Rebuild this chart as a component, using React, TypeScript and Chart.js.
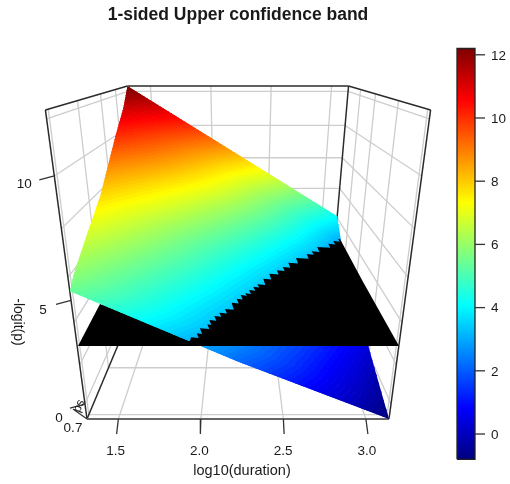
import React, { useEffect, useRef } from "react";
import { Chart, registerables } from "chart.js";

// ---------- data ----------
const titleText = "1-sided Upper confidence band";
const durationTicks = [1.5, 2.0, 2.5, 3.0];
const durationRange = [1.31, 3.14];
const zTicks = [0, 5, 10];
const zGrid = [0, 2, 4, 6, 8, 10, 12];
const zRange = [-0.8, 12.3];
const depthGrid = [0.02, 0.27, 0.54, 0.77];
const colorbarTicks = [0, 2, 4, 6, 8, 10, 12];
const colorbarRange = [-0.8, 12.2];
const palette = ["#00007F", "#0000FF", "#007FFF", "#00FFFF", "#7FFF7F", "#FFFF00", "#FF7F00", "#FF0000", "#7F0000"];

// surface height: columns are log10(duration), rows are depth
const surfaceDurations = [1.31, 2.225, 3.14];
const surfaceDepths = [0, 0.05, 0.2, 0.4, 0.7, 0.88, 1];
const surfaceZ = [
  [5.4, 2.15, -0.8],
  [5.85, 2.6, -0.6],
  [6.7, 3.33, -0.03],
  [7.75, 4.27, 0.79],
  [10.0, 6.1, 2.2],
  [11.2, 7.1, 3.03],
  [12.3, 8.2, 4.1],
];

// black region, in picture units
const blackLeft = [[78, 346], [100, 304], [150, 320], [205, 346]];
const blackEdgeStart = [[178, 346], [178, 339], [183, 341], [190, 341]];
const blackTeeth = [
  [191, 337.3], [196.7, 333.3], [200, 328.3], [207.3, 324.3], [209.3, 320], [214.3, 316], [219.3, 312.7], [225, 309],
  [231.7, 302.7], [236.7, 298.7], [240.7, 295], [245, 293.3], [249, 290], [253.3, 286.7], [257.3, 284.3], [263.3, 278.7],
  [269.3, 273.7], [276.7, 270.3], [282.7, 267], [288.3, 262.7], [296, 258], [306.7, 254], [311.7, 251.3], [317.3, 247],
  [328.3, 243.7], [333.3, 241], [338, 239.3],
];
const blackEdgeEnd = [[340, 239], [362, 280], [399, 346]];

// ---------- view ----------
const W = 510;
const H = 484;
const FONT = '"Liberation Sans", Arial, sans-serif';
const GRID = "#cdcdcd";
const EDGE = "#2b2b2b";
const BAR_MIN = -1.582;
const BAR_MAX = 13.734;
const zLabelOffsets = [[-26, 14], [-28, 10], [-30, 8]];

function project(d: number, v: number, z: number) {
  const u = (d - (durationRange[0] + durationRange[1]) / 2) / ((durationRange[1] - durationRange[0]) / 2);
  const t = (z - zRange[0]) / (zRange[1] - zRange[0]);
  const w = 1 + 0.615 * v - 0.216 * t - 0.033 * v * t;
  return { x: 238 + (151 * u) / w, y: (419 + 36.4 * v - 332.8 * t - 5.1 * v * t) / w };
}

function jet(z: number) {
  const f = Math.max(0, Math.min(0.99999, (z - colorbarRange[0]) / (colorbarRange[1] - colorbarRange[0]))) * (palette.length - 1);
  const i = Math.floor(f);
  const k = f - i;
  const c = (s: string, p: number) => parseInt(s.slice(p, p + 2), 16);
  const mix = (p: number) => Math.round(c(palette[i], p) * (1 - k) + c(palette[i + 1], p) * k);
  return `rgb(${mix(1)},${mix(3)},${mix(5)})`;
}

function durationAtLevel(row: number[], level: number) {
  let j = 0;
  while (j < row.length - 2 && level < row[j + 1]) j++;
  const k = (level - row[j]) / (row[j + 1] - row[j]);
  return surfaceDurations[j] + k * (surfaceDurations[j + 1] - surfaceDurations[j]);
}

function line(points: { x: number; y: number }[], color: any, width: number, extra: object = {}) {
  return { data: points, showLine: true, borderColor: color, borderWidth: width, pointRadius: 0, fill: false, tension: 0, ...extra };
}

function polygon(points: { x: number; y: number }[], color: string) {
  return {
    data: [...points, points[0]],
    showLine: true,
    borderColor: color,
    backgroundColor: color,
    borderWidth: 0,
    pointRadius: 0,
    tension: 0,
    fill: "shape",
  };
}

function buildDatasets() {
  const ds: any[] = [];
  const [d0, d1] = durationRange;
  const [z0, z1] = zRange;
  const wall = (a: any, b: any) => ds.push(line([a, b], GRID, 1.3));

  // walls and floor
  for (const z of zGrid) {
    wall(project(d0, 0, z), project(d0, 1, z));
    wall(project(d0, 1, z), project(d1, 1, z));
    wall(project(d1, 1, z), project(d1, 0, z));
  }
  for (const d of durationTicks) {
    wall(project(d, 0, z0), project(d, 1, z0));
    wall(project(d, 1, z0), project(d, 1, z1));
  }
  for (const v of depthGrid) {
    wall(project(d0, v, z1), project(d0, v, z0));
    wall(project(d0, v, z0), project(d1, v, z0));
    wall(project(d1, v, z0), project(d1, v, z1));
  }

  // box outline
  const edge = (a: any, b: any, c = EDGE, w = 1.5) => ds.push(line([a, b], c, w));
  edge(project(d0, 1, z1), project(d1, 1, z1));
  edge(project(d0, 0, z1), project(d0, 1, z1));
  edge(project(d1, 0, z1), project(d1, 1, z1));
  edge(project(d0, 0, z1), project(d0, 0, z0));
  edge(project(d1, 0, z1), project(d1, 0, z0));
  edge(project(d1, 1, z1), project(d1, 1, z0));
  edge(project(d0, 0, z0), project(d0, 1, z0));
  edge(project(d1, 0, z0), project(d1, 1, z0), "#8a8a8a", 1.2);
  edge(project(d0, 0, z0), project(d1, 0, z0), "#666666", 2);

  // axis ticks
  for (const d of durationTicks) {
    const p = project(d, 0, z0);
    edge(p, { x: p.x + (d - 2.2) * 2.5, y: p.y + 15 }, "#333333", 1.3);
  }
  for (const z of zTicks) {
    const p = project(d0, 0, z);
    edge(p, { x: p.x - 15, y: p.y + 4 }, "#333333", 1.3);
  }
  const c = project(d0, 0, z0);
  edge(c, { x: c.x - 14, y: c.y - 10 }, "#333333", 1.2);

  // black part under the surface
  ds.push(polygon(blackLeft.map(([x, y]) => ({ x, y })), "#000000"));

  // surface, as bands of equal height, clipped to its outline
  const step = 0.125;
  for (let lo = zRange[0] - step; lo < zRange[1] + step; lo += step) {
    const hi = lo + step;
    const left = surfaceZ.map((row, i) => project(durationAtLevel(row, hi), surfaceDepths[i], hi));
    const right = surfaceZ.map((row, i) => project(durationAtLevel(row, lo), surfaceDepths[i], lo));
    const col = jet(lo + step / 2);
    ds.push({ ...polygon([...left, ...right.reverse()], col), borderColor: col, borderWidth: 1, surfaceBand: true });
  }

  // black part over the surface
  const teeth: { x: number; y: number }[] = [];
  blackTeeth.forEach(([x, y], i) => {
    teeth.push({ x, y });
    const next = blackTeeth[i + 1];
    if (next) teeth.push({ x: next[0] + 2, y: y + 0.8 });
  });
  ds.push(
    polygon(
      [...blackEdgeStart.map(([x, y]) => ({ x, y })), ...teeth, ...blackEdgeEnd.map(([x, y]) => ({ x, y }))],
      "#000000"
    )
  );

  // colour bar
  const barX = 466;
  const pix = (z: number) => (H * (BAR_MAX - z)) / (BAR_MAX - BAR_MIN);
  ds.push({
    ...line([{ x: barX, y: colorbarRange[0] }, { x: barX, y: colorbarRange[1] }], "#000", 18),
    yAxisID: "z",
    borderCapStyle: "butt",
    borderColor: (ctx: any) => {
      const g = ctx.chart.ctx.createLinearGradient(0, pix(colorbarRange[0]), 0, pix(colorbarRange[1]));
      palette.forEach((p, i) => g.addColorStop(i / (palette.length - 1), p));
      return g;
    },
  });
  const [b0, b1] = colorbarRange;
  ds.push({
    ...line(
      [{ x: 457, y: b0 }, { x: 475, y: b0 }, { x: 475, y: b1 }, { x: 457, y: b1 }, { x: 457, y: b0 }],
      "#222222",
      1.3
    ),
    yAxisID: "z",
  });
  for (const t of colorbarTicks) {
    ds.push({ ...line([{ x: 475, y: t }, { x: 485, y: t }], "#333333", 1.3), yAxisID: "z" });
  }
  return ds.reverse();
}

function surfaceOutline() {
  const [d0, d1] = durationRange;
  const pts: { x: number; y: number }[] = [];
  surfaceZ.forEach((row, i) => pts.push(project(d0, surfaceDepths[i], row[0])));
  const top = surfaceZ[surfaceZ.length - 1];
  pts.push(project(surfaceDurations[1], 1, top[1]));
  for (let i = surfaceZ.length - 1; i >= 0; i--) pts.push(project(d1, surfaceDepths[i], surfaceZ[i][2]));
  pts.push(project(surfaceDurations[1], 0, surfaceZ[0][1]));
  return pts;
}

// Must run before the filler, so it is registered first.
const surfaceClip = {
  id: "surfaceClip",
  beforeDatasetDraw(chart: any, args: any) {
    if (!chart.data.datasets[args.index].surfaceBand) return;
    const { ctx, scales } = chart;
    ctx.save();
    ctx.beginPath();
    surfaceOutline().forEach((p, i) => {
      const x = scales.x.getPixelForValue(p.x);
      const y = scales.y.getPixelForValue(p.y);
      if (i) ctx.lineTo(x, y);
      else ctx.moveTo(x, y);
    });
    ctx.closePath();
    ctx.clip();
  },
  afterDatasetDraw(chart: any, args: any) {
    if (chart.data.datasets[args.index].surfaceBand) chart.ctx.restore();
  },
};

const textLayer = {
  id: "textLayer",
  afterDraw(chart: any) {
    const { ctx, scales } = chart;
    const put = (text: string, x: number, y: number, font: string, align: CanvasTextAlign = "center", rot = 0) => {
      ctx.save();
      ctx.translate(scales.x.getPixelForValue(x), scales.y.getPixelForValue(y));
      ctx.rotate(rot);
      ctx.font = font;
      ctx.textAlign = align;
      ctx.textBaseline = "middle";
      ctx.fillStyle = "#1a1a1a";
      ctx.fillText(text, 0, 0);
      ctx.restore();
    };
    const tickFont = `13.5px ${FONT}`;
    const labelFont = `14.5px ${FONT}`;
    put(titleText, 238, 15, `bold 17.5px ${FONT}`);
    put("log10(duration)", 242, 471, labelFont);
    put("-logit(p)", 18, 322, `14px ${FONT}`, "center", Math.PI / 2);
    for (const d of durationTicks) {
      const p = project(d, 0, zRange[0]);
      put(d.toFixed(1), p.x + (d - 2.2) * 2.5 - 1, 451, tickFont);
    }
    zTicks.forEach((z, i) => {
      const p = project(durationRange[0], 0, z);
      put(String(z), p.x + zLabelOffsets[i][0], p.y + zLabelOffsets[i][1], tickFont);
    });
    put("0.7", 73, 428, tickFont);
    put("ps", 79, 406, `12px ${FONT}`, "center", -1.2);
    for (const t of colorbarTicks) {
      put(String(t), 491, scales.y.getValueForPixel(scales.z.getPixelForValue(t)) + 1, tickFont, "left");
    }
  },
};

Chart.register(surfaceClip);
Chart.register(...registerables);

export default function App() {
  const ref = useRef<HTMLCanvasElement>(null);
  useEffect(() => {
    const chart = new Chart(ref.current!, {
      type: "scatter",
      data: { datasets: buildDatasets() },
      options: {
        animation: false,
        responsive: false,
        layout: { padding: 0 },
        events: [],
        plugins: { legend: { display: false }, tooltip: { enabled: false } },
        scales: {
          x: { type: "linear", display: false, min: 0, max: W },
          y: { type: "linear", display: false, min: 0, max: H, reverse: true },
          z: { type: "linear", display: false, min: BAR_MIN, max: BAR_MAX },
        },
      },
      plugins: [textLayer],
    } as any);
    return () => chart.destroy();
  }, []);
  return (
    <div style={{ position: "absolute", left: 0, top: 0, width: W, height: H, background: "#fff" }}>
      <canvas ref={ref} width={W} height={H} style={{ display: "block" }} />
    </div>
  );
}
